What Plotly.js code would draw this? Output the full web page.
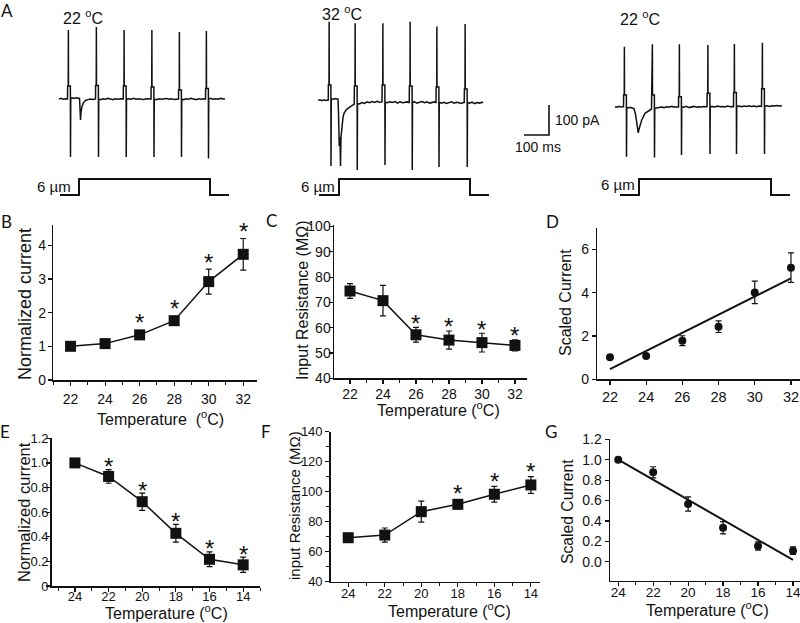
<!DOCTYPE html>
<html><head><meta charset="utf-8">
<script src="https://cdn.plot.ly/plotly-3.0.1.min.js"></script>
<style>html,body{margin:0;padding:0;background:#fff}#chart{width:800px;height:623px}</style>
</head><body><div id="chart"></div>
<script>
// ================= DATA =================
// Panel A: recordings (time in ms, current in pA) and stimulus (displacement in µm)
const trace1T = [0,8,16,24,32, 34,34.5,37,37.5,38,45.5,46,47, 52,60,68,76,82, 84,86,88,92,98,106,116,126,136,144,
  146,146.5,149,149.5,150,157.5,158,159, 166,176,186,196,206,216,226,236,246,254,
  257,257.5,260,260.5,261,268.5,269,270, 278,288,298,308,318,328,338,348,358,366,
  368,368.5,371,371.5,372,379.5,380,381, 390,400,410,420,430,440,450,460,470,477,
  478,478.5,481,481.5,482,489.5,490,491, 498,508,518,528,538,548,558,568,578,585,
  586,586.5,589,589.5,590,597.5,598,599, 606,616,626,636,646,656,664];
const trace1I = [0,2,-1,1,0, 0,43,43,230,43,43,-193,3, 4,2,4,3,2, -30,-70,-45,-25,-12,-5,-2,0,-2,1,
  0,45,45,240,45,45,-193,0, -2,1,-1,2,0,-2,1,-1,1,0,
  0,43,43,230,43,43,-193,0, 1,-1,2,-1,1,0,-2,1,0,-1,
  0,40,40,230,40,40,-193,0, -2,1,-1,0,2,-1,1,-2,0,1,
  0,30,30,223,30,30,-193,0, -2,1,-1,2,0,-2,1,-1,1,0,
  0,35,35,227,35,35,-198,0, 2,-1,1,-1,2,0,1];

const trace2T = [0,8,16,24,32,38, 41,41.5,44,44.5,45,51.5,52,53, 58,64,70,76,80,
  82,85,88,90,92,95,100,104,112,121,131,141,
  145,145.5,148,148.5,149,156.5,157,158, 166,176,186,196,206,216,226,236,246,253,
  256,256.5,259,259.5,260,267.5,268,269, 278,288,298,308,318,328,338,348,358,362,
  365,365.5,368,368.5,369,376.5,377,378, 386,396,406,416,426,436,446,456,466,469,
  472,472.5,475,475.5,476,483.5,484,485, 494,504,514,524,534,544,554,564,574,582,
  585,585.5,588,588.5,589,596.5,597,598, 606,616,626,636,646,656,660];
const trace2I = [2,4,1,4,2,3, 3,53,53,264,53,53,-217,7, 7,6,8,7,6,
  -40,-150,-120,-217,-120,-86,-55,-41,-30,-24,-17,-13,
  -10,50,50,259,50,50,-230,-8, -10,-5,-8,-3,-6,-2,-5,-1,-4,-3,
  -3,53,53,259,53,53,-213,-4, -6,-3,-5,-2,-7,-3,-6,-4,-3,-5,
  -5,50,50,264,50,50,-230,-4, -3,-7,-4,-2,-6,-3,-7,-4,-3,-5,
  -5,47,47,248,47,47,-220,-4, -7,-4,-8,-5,-3,-7,-4,-6,-8,-5,
  -5,40,40,257,40,40,-220,-4, -7,-4,-9,-5,-7,-4,-6];

const trace3T = [0,8,16,24,31, 34,34.5,37,37.5,38,45.5,46,47, 54,62,70,76,
  82,88,93,96,100,107,120,130,140,
  146,146.5,149,149.5,150,157.5,158,159, 166,176,186,196,206,216,226,236,246,251,
  254,254.5,257,257.5,258,265.5,266,267, 276,286,296,306,316,326,336,346,356,365,
  368,368.5,371,371.5,372,379.5,380,381, 390,400,410,420,430,440,450,460,468,
  474,474.5,477,477.5,478,485.5,486,487, 496,506,516,526,536,546,556,566,576,583,
  586,586.5,589,589.5,590,597.5,598,599, 608,618,628,638,648,658,668];
const trace3I = [0,-2,1,-1,0, 0,39,39,200,39,39,-167,-2, -4,-2,-5,-6,
  -25,-60,-87,-75,-60,-44,-22,-15,-11,
  -8,39,39,208,39,39,-169,-5, -4,-3,-1,-3,0,-2,1,-1,0,-1,
  -1,33,33,208,33,33,-161,0, -2,1,-3,-1,1,-2,0,-1,1,0,
  0,45,45,206,45,45,-158,0, 1,-1,2,0,1,-1,2,0,1,
  0,47,47,209,47,47,-158,1, 2,0,2,1,3,1,2,0,2,1,
  1,60,60,213,60,60,-158,2, 3,1,3,2,4,2,3];

const stim1T = [4, 80, 80, 604, 604, 680];
const stim2T = [4, 84, 84, 608, 608, 684];
const stim3T = [20, 96, 96, 624, 624, 700];
const stimUm = [0, 0, 6, 6, 0, 0];

const scaleBarT = [0, 100, 100];   // 100 ms
const scaleBarI = [0, 0, 100];     // 100 pA

// Panels B-D: warming 22 -> 32 °C ; E-G: cooling 24 -> 14 °C
const tempsUp = [22, 24, 26, 28, 30, 32];
const tempsDown = [24, 22, 20, 18, 16, 14];

const normCurrB = [1.0, 1.08, 1.34, 1.76, 2.92, 3.73];
const normCurrBErr = [0.04, 0.05, 0.06, 0.12, 0.37, 0.47];
const sigB = [0, 0, 1, 1, 1, 1];

const resistC = [74.5, 70.7, 57.2, 55.1, 54.1, 53.0];
const resistCErr = [2.9, 6.0, 2.9, 3.6, 3.7, 2.2];
const sigC = [0, 0, 1, 1, 1, 1];

const scaledD = [1.02, 1.08, 1.78, 2.43, 4.01, 5.15];
const scaledDErr = [0.05, 0.05, 0.23, 0.27, 0.52, 0.68];
const fitDx = [22, 32];
const fitDy = [0.47, 4.66];

const normCurrE = [1.0, 0.89, 0.685, 0.428, 0.217, 0.172];
const normCurrEErr = [0.01, 0.055, 0.07, 0.072, 0.06, 0.062];
const sigE = [0, 1, 1, 1, 1, 1];

const resistF = [69.3, 71.1, 86.7, 91.6, 98.3, 104.5];
const resistFErr = [3.0, 4.7, 7.0, 3.0, 5.2, 5.6];
const sigF = [0, 0, 0, 1, 1, 1];

const scaledG = [1.0, 0.876, 0.566, 0.333, 0.154, 0.108];
const scaledGErr = [0.01, 0.055, 0.07, 0.06, 0.04, 0.037];
const fitGx = [24, 14];
const fitGy = [1.0, 0.017];

const eTickVals = [0, 0.2, 0.4, 0.6, 0.8, 1.0, 1.2];
const eTickText = ['0', '0.2', '0.4', '0.6', '0.8', '1.0', '1.2'];

// ================= LAYOUT HELPERS =================
const W = 800, H = 623;
const FONT = '"Liberation Sans", Arial, Helvetica, sans-serif';
const LETTER = 'Lato, "Open Sans", sans-serif';
const INK = '#111';
const dx = (a, b) => [a / W, b / W];
const dy = (top, bot) => [1 - bot / H, 1 - top / H];
const linX = (a, b, origin, s) => [(a - origin) / s, (b - origin) / s];
const linY = (top, bot, origin, s) => [(origin - bot) / s, (origin - top) / s];
const tf = (s) => ({family: FONT, size: s, color: INK});

const axBase = {
  showline: true, linecolor: INK, linewidth: 1.5, ticks: 'outside', ticklen: 4,
  tickwidth: 1.2, tickcolor: INK, showgrid: false, zeroline: false,
  tickfont: tf(14), fixedrange: true, ticklabeloverflow: 'allow'
};
const minorX = {dtick: 1, ticks: 'outside', ticklen: 3, tickwidth: 1, tickcolor: INK, showgrid: false};
const hidden = {visible: false, fixedrange: true, showgrid: false, zeroline: false};
const ax = (o) => Object.assign({}, axBase, o);
const hx = (o) => Object.assign({}, hidden, o);

const MS = 0.25;  // px per ms
const PA = 0.3;   // px per pA
const UM = 16 / 6; // px per µm

const layout = {
  width: W, height: H, margin: {l: 0, r: 0, t: 0, b: 0},
  paper_bgcolor: '#fff', plot_bgcolor: 'rgba(0,0,0,0)', showlegend: false,
  // B
  xaxis: ax({domain: dx(53.3, 256.7), range: [21, 32.78], tick0: 22, dtick: 2, minor: minorX, anchor: 'y', ticklabelstandoff: 2}),
  yaxis: ax({domain: dy(225, 380), range: [0, 4.6], tick0: 0, dtick: 1, anchor: 'x', ticklabelstandoff: -1}),
  // C
  xaxis2: ax({domain: dx(334, 527), range: [21.03, 32.73], tick0: 22, dtick: 2, minor: minorX, anchor: 'y2', ticklabelstandoff: -2}),
  yaxis2: ax({domain: dy(225, 378.3), range: [40, 100.6], tick0: 40, dtick: 10, anchor: 'x2', ticklabelstandoff: -5}),
  // D
  xaxis3: ax({domain: dx(597.3, 800), range: [21.3, 32.5], tick0: 22, dtick: 2, anchor: 'y3', ticklabelstandoff: 0, tickfont: tf(14.5)}),
  yaxis3: ax({domain: dy(227.6, 379.3), range: [0, 7], tick0: 0, dtick: 2, anchor: 'x3', ticklabelstandoff: 0}),
  // E
  xaxis4: ax({domain: dx(51.7, 260), range: [25.38, 13.0], tick0: 24, dtick: 2, minor: minorX, anchor: 'y4', tickfont: tf(13), ticklabelstandoff: -6}),
  yaxis4: ax({domain: dy(438.3, 586), range: [0, 1.2], tickmode: 'array', tickvals: eTickVals, ticktext: eTickText, anchor: 'x4', tickfont: tf(13), ticklabelstandoff: -5}),
  // F
  xaxis5: ax({domain: dx(330.7, 540), range: [24.96, 13.5], tick0: 24, dtick: 2, minor: minorX, anchor: 'y5', tickfont: tf(13), ticklabelstandoff: -5}),
  yaxis5: ax({domain: dy(431.7, 581.7), range: [40, 140], tick0: 40, dtick: 20, anchor: 'x5', tickfont: tf(13), ticklabelstandoff: 0,
    minor: {dtick: 10, ticks: 'outside', ticklen: 3, tickwidth: 1, tickcolor: INK, showgrid: false}}),
  // G
  xaxis6: ax({domain: dx(610, 800), range: [24.47, 13.6], tick0: 24, dtick: 2, minor: minorX, anchor: 'y6', tickfont: tf(13.5), ticklabelstandoff: -5}),
  yaxis6: ax({domain: dy(439.3, 580.7), range: [-0.186, 1.2], tick0: 0, dtick: 0.2, tickformat: '.1f', anchor: 'x6', ticklabelstandoff: 0}),
  // A: recordings
  xaxis7: hx({domain: dx(50, 235), range: linX(50, 235, 59, MS), anchor: 'y7'}),
  yaxis7: hx({domain: dy(15, 170), range: linY(15, 170, 99, PA), anchor: 'x7'}),
  yaxis8: hx({domain: dy(170, 200), range: linY(170, 200, 195, UM), anchor: 'x7'}),
  xaxis8: hx({domain: dx(300, 495), range: linX(300, 495, 318, MS), anchor: 'y9'}),
  yaxis9: hx({domain: dy(10, 172), range: linY(10, 172, 101, PA), anchor: 'x8'}),
  yaxis10: hx({domain: dy(170, 200), range: linY(170, 200, 195, UM), anchor: 'x8'}),
  xaxis9: hx({domain: dx(600, 798), range: linX(600, 798, 615, MS), anchor: 'y11'}),
  yaxis11: hx({domain: dy(30, 170), range: linY(30, 170, 106.7, PA), anchor: 'x9'}),
  yaxis12: hx({domain: dy(170, 200), range: linY(170, 200, 195, UM), anchor: 'x9'}),
  xaxis10: hx({domain: dx(515, 560), range: linX(515, 560, 524, MS), anchor: 'y13'}),
  yaxis13: hx({domain: dy(100, 140), range: linY(100, 140, 135, PA), anchor: 'x10'}),
  annotations: []
};

// ================= TRACES =================
function series(x, y, err, xa, ya, mode, symbol, size) {
  return {
    type: 'scatter', x: x, y: y, xaxis: xa, yaxis: ya, mode: mode,
    line: {color: INK, width: 1.5}, marker: {symbol: symbol, size: size, color: INK},
    error_y: {type: 'data', array: err, visible: true, color: INK, thickness: 1.2, width: 3},
    hoverinfo: 'skip', cliponaxis: false
  };
}
function line(x, y, xa, ya, w) {
  return {type: 'scatter', x: x, y: y, xaxis: xa, yaxis: ya, mode: 'lines',
    line: {color: INK, width: w}, hoverinfo: 'skip', cliponaxis: false};
}

const data = [
  series(tempsUp, normCurrB, normCurrBErr, 'x', 'y', 'lines+markers', 'square', 11),
  series(tempsUp, resistC, resistCErr, 'x2', 'y2', 'lines+markers', 'square', 11),
  line(fitDx, fitDy, 'x3', 'y3', 2),
  series(tempsUp, scaledD, scaledDErr, 'x3', 'y3', 'markers', 'circle', 8),
  series(tempsDown, normCurrE, normCurrEErr, 'x4', 'y4', 'lines+markers', 'square', 11),
  series(tempsDown, resistF, resistFErr, 'x5', 'y5', 'lines+markers', 'square', 11),
  line(fitGx, fitGy, 'x6', 'y6', 2),
  series(tempsDown, scaledG, scaledGErr, 'x6', 'y6', 'markers', 'circle', 8),
  line(trace1T, trace1I, 'x7', 'y7', 1.5),
  line(stim1T, stimUm, 'x7', 'y8', 2),
  line(trace2T, trace2I, 'x8', 'y9', 1.5),
  line(stim2T, stimUm, 'x8', 'y10', 2),
  line(trace3T, trace3I, 'x9', 'y11', 1.5),
  line(stim3T, stimUm, 'x9', 'y12', 2),
  line(scaleBarT, scaleBarI, 'x10', 'y13', 1.6)
];

// ================= TEXT =================
const ann = layout.annotations;
function note(text, xpx, ypx, size, extra) {
  ann.push(Object.assign({
    text: text, x: xpx / W, y: 1 - ypx / H, xref: 'paper', yref: 'paper',
    showarrow: false, xanchor: 'center', yanchor: 'middle',
    font: tf(size)
  }, extra || {}));
}
function letter(t, xpx, ypx) { note(t, xpx, ypx, 17, {font: {family: LETTER, size: 17, color: INK}}); }
// significance asterisks: placed above the taller of the error bar / marker
function stars(xs, ys, errs, sig, xa, ya, gap) {
  const yax = layout[ya === 'y' ? 'yaxis' : 'yaxis' + ya.slice(1)];
  const ppu = (yax.domain[1] - yax.domain[0]) * H / (yax.range[1] - yax.range[0]);
  xs.forEach(function (x, i) {
    if (!sig[i]) return;
    const top = Math.max(errs[i] * ppu, 5.5);
    ann.push({text: '*', x: x, y: ys[i], xref: xa, yref: ya, showarrow: false,
      xanchor: 'center', yanchor: 'middle', yshift: top + gap - 4, font: tf(24)});
  });
}

letter('A', 7, 11); letter('B', 6, 221); letter('C', 271, 220); letter('D', 552, 221);
letter('E', 5, 432); letter('F', 266, 432); letter('G', 551, 431);

note('22 <sup>o</sup>C', 83, 17, 16);
note('32 <sup>o</sup>C', 342, 13, 16);
note('22 <sup>o</sup>C', 640, 18, 16);
note('6 \u00b5m', 73, 186, 15, {xanchor: 'right'});
note('6 \u00b5m', 337, 186, 15, {xanchor: 'right'});
note('6 \u00b5m', 637, 184, 15, {xanchor: 'right'});
note('100 pA', 553, 120, 14, {xanchor: 'left'});
note('100 ms', 538, 147, 14);

note('Normalized current', 25, 304, 18, {textangle: -90});
note('Input Resistance (M\u03a9)', 302, 300, 16, {textangle: -90});
note('Scaled Current', 565, 303, 16, {textangle: -90});
note('Normalized current', 24, 512, 16.5, {textangle: -90});
note('input Resistance (M\u03a9)', 295, 506, 15, {textangle: -90});
note('Scaled Current', 567, 512, 15.7, {textangle: -90});

note('Temperature\u00a0 (<sup>o</sup>C)', 160, 418, 16);
note('Temperature (<sup>o</sup>C)', 438, 409, 16);
note('Temperature (<sup>o</sup>C)', 166, 612, 16);
note('Temperature (<sup>o</sup>C)', 449, 610, 16);
note('Temperature (<sup>o</sup>C)', 707, 609, 16);

stars(tempsUp, normCurrB, normCurrBErr, sigB, 'x', 'y', 11);
stars(tempsUp, resistC, resistCErr, sigC, 'x2', 'y2', 8);
stars(tempsDown, normCurrE, normCurrEErr, sigE, 'x4', 'y4', 7);
stars(tempsDown, resistF, resistFErr, sigF, 'x5', 'y5', 9);

Plotly.newPlot('chart', data, layout, {staticPlot: true, displayModeBar: false});
</script>
</body></html>
